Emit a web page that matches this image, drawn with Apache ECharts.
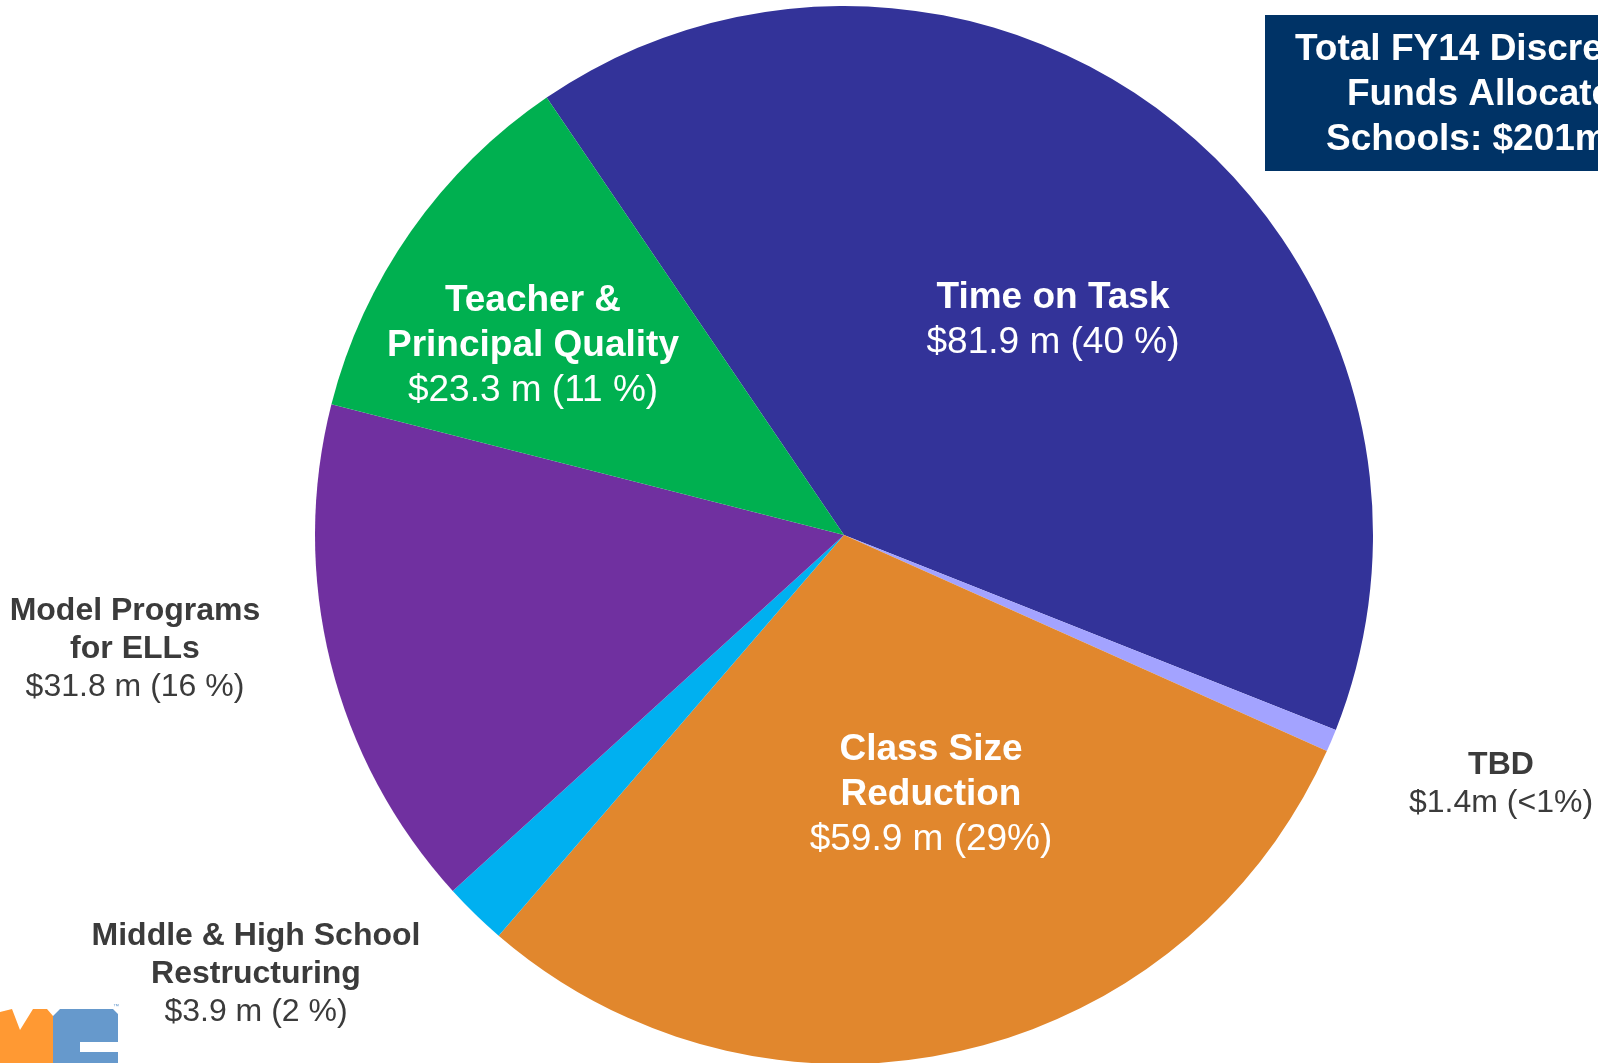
<!DOCTYPE html>
<html>
<head>
<meta charset="utf-8">
<script src="https://cdn.jsdelivr.net/npm/echarts@6/dist/echarts.min.js"></script>
<style>
  html, body { margin: 0; padding: 0; background: #fff; }
  #chart { width: 1598px; height: 1063px; }
</style>
</head>
<body>
<div id="chart"></div>
<script>
// slices in clockwise order, starting from the top-left boundary
const categories = [
  "Time on Task",
  "TBD",
  "Class Size\nReduction",
  "Middle & High School\nRestructuring",
  "Model Programs\nfor ELLs",
  "Teacher &\nPrincipal Quality"
];
const amounts = [81.9, 1.4, 59.9, 3.9, 31.8, 23.3];
const amountLabels = [
  "$81.9 m (40 %)",
  "$1.4m (<1%)",
  "$59.9 m (29%)",
  "$3.9 m (2 %)",
  "$31.8 m (16 %)",
  "$23.3 m (11 %)"
];
const sliceColors = ["#333399", "#a3a3ff", "#e1872d", "#00b0f0", "#7030a0", "#00b050"];
const insideLabel = [true, false, true, false, false, true];

// label block centres (px)
const labelPos = [
  [1053, 320], [1501, 784], [931, 795], [256, 974], [135, 649], [533, 346]
];

const titleLines = ["Total FY14 Discretionary", "Funds Allocated to", "Schools: $201m"];

const chart = echarts.init(document.getElementById("chart"), null, { renderer: "canvas" });

const fmt = (i) => {
  const style = insideLabel[i] ? "b" : "bo";
  const vStyle = insideLabel[i] ? "v" : "vo";
  const nameLines = categories[i].split("\n").map((l) => `{${style}|${l}}`);
  return nameLines.join("\n") + `\n{${vStyle}|${amountLabels[i]}}`;
};

const data = categories.map((name, i) => ({
  name,
  value: amounts[i],
  itemStyle: { color: sliceColors[i] }
}));

const option = {
  backgroundColor: "#fff",
  animation: false,
  series: [
    {
      type: "pie",
      center: [844, 535],
      radius: 529,
      startAngle: 124.2,
      clockwise: true,
      data,
      itemStyle: { borderWidth: 0 },
      emphasis: { disabled: true },
      label: {
        show: true,
        position: "inside",
        formatter: (p) => fmt(p.dataIndex),
        align: "center",
        rich: {
          b: { fontFamily: "Liberation Sans", fontWeight: "bold", fontSize: 37, lineHeight: 45, color: "#fff", align: "center" },
          v: { fontFamily: "Liberation Sans", fontSize: 37, lineHeight: 45, color: "#fff", align: "center" },
          bo: { fontFamily: "Liberation Sans", fontWeight: "bold", fontSize: 32, lineHeight: 38, color: "#3b3b3b", align: "center" },
          vo: { fontFamily: "Liberation Sans", fontSize: 32, lineHeight: 38, color: "#3b3b3b", align: "center" }
        }
      },
      labelLine: { show: false },
      labelLayout: (p) => ({
        x: labelPos[p.dataIndex][0],
        y: labelPos[p.dataIndex][1],
        align: "center",
        verticalAlign: "middle"
      })
    }
  ],
  graphic: [
    {
      type: "rect",
      shape: { x: 1265, y: 15, width: 400, height: 156 },
      style: { fill: "#003366" }
    },
    ...titleLines.map((t, i) => ({
      type: "text",
      x: [1295, 1347, 1326][i],
      y: 50 + i * 45,
      style: {
        text: t,
        fill: "#fff",
        fontFamily: "Liberation Sans",
        fontWeight: "bold",
        fontSize: 37,
        verticalAlign: "middle"
      }
    })),
    // logo fragment, bottom left
    {
      type: "polygon",
      shape: { points: [[0, 1012], [12, 1009], [20, 1030], [33, 1009], [47, 1009], [53, 1016], [53, 1063], [0, 1063]] },
      style: { fill: "#ff9933" }
    },
    {
      type: "polygon",
      shape: { points: [[53, 1016], [60, 1009], [113, 1009], [118, 1014], [118, 1042], [80, 1042], [80, 1052], [118, 1052], [118, 1063], [53, 1063]] },
      style: { fill: "#6699cc" }
    },
    {
      type: "text",
      x: 113,
      y: 1009,
      style: { text: "™", fill: "#6699cc", fontSize: 6, fontFamily: "Liberation Sans", verticalAlign: "bottom" }
    }
  ]
};

chart.setOption(option);
window.addEventListener("resize", () => chart.resize());
</script>
</body>
</html>
